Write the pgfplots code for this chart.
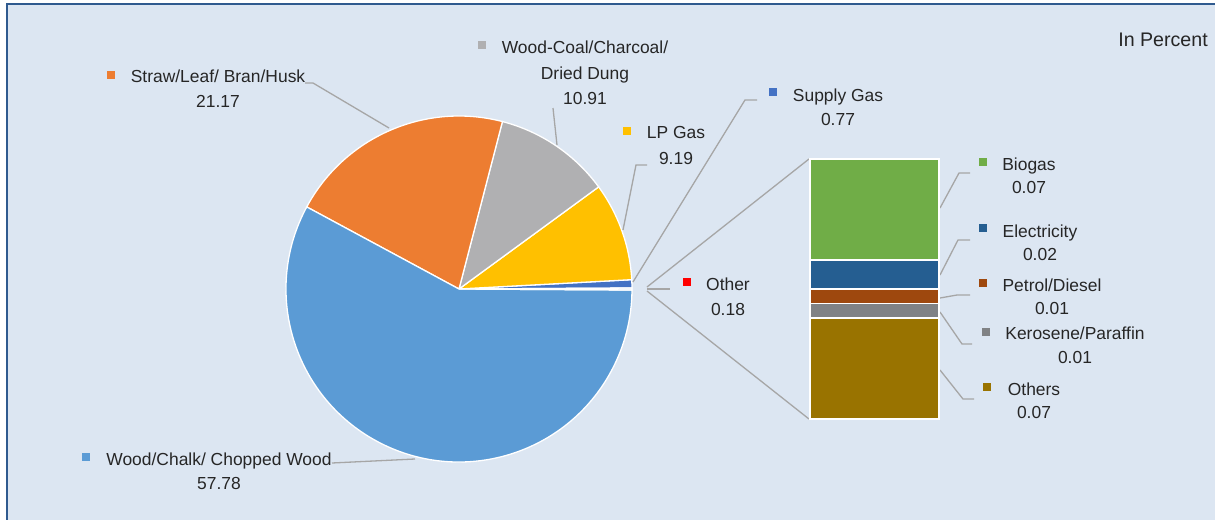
\documentclass[border=0pt]{standalone}
\usepackage{pgfplots}
\pgfplotsset{compat=1.18}
\usepackage{pgfplotstable}
\usepackage{fontspec}
\setmainfont{Liberation Sans}

\definecolor{bgc}{HTML}{DCE6F2}
\definecolor{framec}{HTML}{2F5A8F}
\definecolor{txtc}{HTML}{262626}
\definecolor{leadc}{HTML}{A6A6A6}
\definecolor{woodc}{HTML}{5B9BD5}
\definecolor{strawc}{HTML}{ED7D31}
\definecolor{coalc}{HTML}{B0B0B2}
\definecolor{lpc}{HTML}{FFC000}
\definecolor{supc}{HTML}{4472C4}
\definecolor{otherpie}{HTML}{E4ECF6}
\definecolor{biogc}{HTML}{70AD47}
\definecolor{elecc}{HTML}{255E91}
\definecolor{petc}{HTML}{9E480E}
\definecolor{kerc}{HTML}{808285}
\definecolor{othc}{HTML}{997300}
\definecolor{redc}{HTML}{FF0000}

% pie, counter-clockwise from the split-off slice
\pgfplotstableread{
value colour
0.77  supc
9.19  lpc
10.91 coalc
21.17 strawc
57.78 woodc
0.18  otherpie
}\pietable

% the "Other" bar, bottom to top
\pgfplotstableread{
x value
0 0.07
}\othersdata
\pgfplotstableread{
x value
0 0.01
}\kerodata
\pgfplotstableread{
x value
0 0.01
}\petroldata
\pgfplotstableread{
x value
0 0.02
}\elecdata
\pgfplotstableread{
x value
0 0.07
}\biogasdata

\newcommand\mk[3]{\fill[#3] (axis cs:#1,#2) ++(-4bp,-4bp) rectangle ++(8bp,8bp);}
\newcommand\tx[3]{\node[anchor=base, text=txtc, inner sep=0pt] at (axis cs:#1,#2) {#3};}

\begin{document}
\begin{tikzpicture}[font=\fontsize{17.5}{21}\selectfont]
\useasboundingbox (0,0) rectangle (1215bp,520bp);
\fill[bgc] (7bp,516bp) rectangle (1240bp,-20bp);
\draw[framec, line width=2bp] (7bp,-20bp) -- (7bp,516bp) -- (1240bp,516bp);

\begin{axis}[at={(0,0)}, anchor=south west, scale only axis,
  width=1215bp, height=520bp, xmin=0, xmax=1215, ymin=0, ymax=520,
  y dir=reverse, hide axis, clip=false]

  % pie slices
  \pgfplotstablegetrowsof{\pietable}
  \pgfmathtruncatemacro\lastrow{\pgfplotsretval-1}
  \pgfmathsetmacro\startangle{1.8*0.18}
  \pgfplotsforeachungrouped \i in {0,...,\lastrow}{%
    \pgfplotstablegetelem{\i}{value}\of\pietable \let\val\pgfplotsretval
    \pgfplotstablegetelem{\i}{colour}\of\pietable \let\col\pgfplotsretval
    \pgfmathsetmacro\endangle{\startangle+3.6*\val}%
    \edef\slice{\noexpand\fill[\col, draw=white, line width=1.3bp]
      (axis cs:459,289) -- ++(\startangle:173bp)
      arc[start angle=\startangle, end angle=\endangle, radius=173bp] -- cycle;}%
    \slice
    \let\startangle\endangle
  }

  % leader lines
  \begin{scope}[leadc, line width=1.3bp]
    \draw (axis cs:305,83) -- (axis cs:313,83) -- (axis cs:389,128);
    \draw (axis cs:553,108) -- (axis cs:557,145);
    \draw (axis cs:647,165) -- (axis cs:636,165) -- (axis cs:623,230);
    \draw (axis cs:757,100) -- (axis cs:745,100) -- (axis cs:633,282);
    \draw (axis cs:647,289) -- (axis cs:670,289);
    \draw (axis cs:332,463) -- (axis cs:415,459);
    \draw (axis cs:940,208) -- (axis cs:959,173) -- (axis cs:970,173);
    \draw (axis cs:940,275) -- (axis cs:958,240) -- (axis cs:970,240);
    \draw (axis cs:940,298) -- (axis cs:957,295) -- (axis cs:970,295);
    \draw (axis cs:940,312) -- (axis cs:962,344) -- (axis cs:972,344);
    \draw (axis cs:940,370) -- (axis cs:963,399) -- (axis cs:974,399);
    \draw (axis cs:647,287) -- (axis cs:809,159);
    \draw (axis cs:647,291) -- (axis cs:809,419);
  \end{scope}

  % labels
  \mk{111}{75}{strawc}   \tx{218}{82}{Straw/Leaf/ Bran/Husk} \tx{218}{107}{21.17}
  \mk{482}{45}{coalc}    \tx{585}{53}{Wood-Coal/Charcoal/} \tx{585}{79}{Dried Dung} \tx{585}{104}{10.91}
  \mk{627}{131}{lpc}     \tx{676}{138}{LP Gas} \tx{676}{164}{9.19}
  \mk{773}{92}{supc}     \tx{838}{101}{Supply Gas} \tx{838}{125}{0.77}
  \mk{687}{282}{redc}    \tx{728}{290}{Other} \tx{728}{315}{0.18}
  \mk{86}{457}{woodc}    \tx{219}{465}{Wood/Chalk/ Chopped Wood} \tx{219}{489}{57.78}
  \mk{983}{162}{biogc}   \tx{1029}{170}{Biogas} \tx{1029}{193}{0.07}
  \mk{983}{228}{elecc}   \tx{1040}{237}{Electricity} \tx{1040}{260}{0.02}
  \mk{983}{283}{petc}    \tx{1052}{291}{Petrol/Diesel} \tx{1052}{314}{0.01}
  \mk{986}{332}{kerc}    \tx{1075}{339}{Kerosene/Paraffin} \tx{1075}{363}{0.01}
  \mk{987}{387}{othc}    \tx{1034}{395}{Others} \tx{1034}{418}{0.07}
  \node[anchor=base east, text=txtc, inner sep=0pt, font=\fontsize{19.7}{23}\selectfont]
    at (axis cs:1208,46) {In Percent};
\end{axis}

\begin{axis}[at={(810bp,101bp)}, anchor=south west, scale only axis,
  width=129bp, height=260bp, hide axis, clip=false,
  xmin=-0.5, xmax=0.5, ymin=0, ymax=0.18,
  ybar stacked, bar width=129bp]
  \addplot[fill=othc, draw=white, line width=1.5bp] table[x=x, y=value] {\othersdata};
  \addplot[fill=kerc, draw=white, line width=1.5bp] table[x=x, y=value] {\kerodata};
  \addplot[fill=petc, draw=white, line width=1.5bp] table[x=x, y=value] {\petroldata};
  \addplot[fill=elecc, draw=white, line width=1.5bp] table[x=x, y=value] {\elecdata};
  \addplot[fill=biogc, draw=white, line width=1.5bp] table[x=x, y=value] {\biogasdata};
\end{axis}
\end{tikzpicture}
\end{document}
